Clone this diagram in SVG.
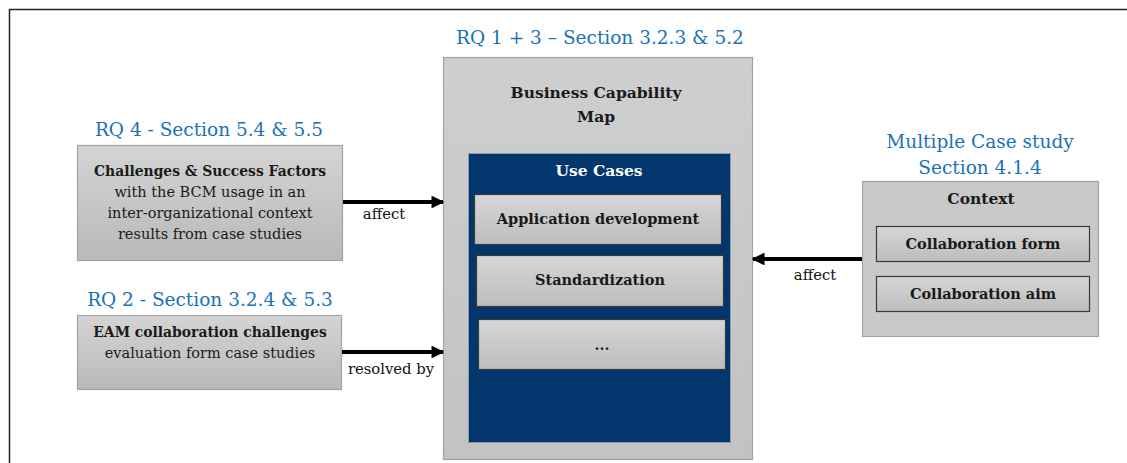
<svg xmlns="http://www.w3.org/2000/svg" width="1127" height="463" viewBox="0 0 1127 463">
  <style>
    text { font-family: "DejaVu Serif", "Liberation Serif", serif; text-anchor: middle; }
    .title { font-size: 18.5px; fill: #1b72b9; }
    .bold { font-size: 14.5px; font-weight: bold; fill: #1a1a1a; }
    .head { font-size: 15.5px; font-weight: bold; fill: #1a1a1a; }
    .lead { font-size: 13.9px; font-weight: bold; fill: #1a1a1a; }
    .norm { font-size: 14.5px; fill: #1a1a1a; }
    .lbl { font-size: 14.8px; fill: #111; }
    .box { fill: url(#gradBox); stroke: #a3a3a3; stroke-width: 1.2; }
    .inner { fill: url(#gradInner); stroke: #3a3a3a; stroke-width: 1.2; }
    .conn { stroke: #000; stroke-width: 4; fill: none; marker-end: url(#arrow); }
  </style>
  <defs>
    <linearGradient id="gradBox" x1="0" y1="0" x2="0" y2="1">
      <stop offset="0" stop-color="#d4d4d4"/>
      <stop offset="1" stop-color="#b9b9b9"/>
    </linearGradient>
    <linearGradient id="gradBig" x1="0" y1="0" x2="0" y2="1">
      <stop offset="0" stop-color="#cfcfcf"/>
      <stop offset="1" stop-color="#c2c2c2"/>
    </linearGradient>
    <linearGradient id="gradInner" x1="0" y1="0" x2="0" y2="1">
      <stop offset="0" stop-color="#d6d6d6"/>
      <stop offset="1" stop-color="#bdbdbd"/>
    </linearGradient>
    <marker id="arrow" viewBox="0 0 10 10" refX="9" refY="5" markerWidth="3.2" markerHeight="3.2" orient="auto" markerUnits="strokeWidth">
      <path d="M0,0 L10,5 L0,10 z" fill="#000"/>
    </marker>
  </defs>

  <rect width="1127" height="463" fill="#fff"/>
  <!-- frame -->
  <path d="M9.5,463 L9.5,9.5 L1127,9.5" fill="none" stroke="#222" stroke-width="1.5"/>

  <!-- central capability map -->
  <g id="bcm">
    <text class="title" x="600" y="44">RQ 1 + 3 – Section 3.2.3 &amp; 5.2</text>
    <rect x="443.5" y="57.5" width="309" height="402" fill="url(#gradBig)" stroke="#a3a3a3" stroke-width="1.2"/>
    <text class="head" x="596" y="98">Business Capability</text>
    <text class="head" x="596" y="122">Map</text>
  </g>

  <g id="use-cases">
    <rect x="468.5" y="153.5" width="262" height="289" fill="#02366c" stroke="#8a9bb0" stroke-width="1"/>
    <text class="head" x="599" y="176" style="fill:#fff">Use Cases</text>
  </g>

  <g id="uc-appdev">
    <rect class="inner" x="474.5" y="194.5" width="247" height="50"/>
    <text class="bold" x="598" y="224">Application development</text>
  </g>
  <g id="uc-standard">
    <rect class="inner" x="476.5" y="255.5" width="247" height="51"/>
    <text class="bold" x="600" y="285">Standardization</text>
  </g>
  <g id="uc-more">
    <rect class="inner" x="478.5" y="319.5" width="247" height="50"/>
    <text class="bold" x="602" y="350">...</text>
  </g>

  <!-- left inputs -->
  <g id="challenges">
    <text class="title" x="209" y="136">RQ 4 - Section 5.4 &amp; 5.5</text>
    <rect class="box" x="77.5" y="145.5" width="265" height="115"/>
    <text class="lead" x="210" y="176">Challenges &amp; Success Factors</text>
    <text class="norm" x="210" y="197">with the BCM usage in an</text>
    <text class="norm" x="210" y="218">inter-organizational context</text>
    <text class="norm" x="210" y="239">results from case studies</text>
  </g>

  <g id="eam">
    <text class="title" x="210" y="306">RQ 2 - Section 3.2.4 &amp; 5.3</text>
    <rect class="box" x="77.5" y="315.5" width="264" height="74"/>
    <text class="lead" x="210" y="337">EAM collaboration challenges</text>
    <text class="norm" x="210" y="358">evaluation form case studies</text>
  </g>

  <!-- right context -->
  <g id="context">
    <text class="title" x="980" y="148">Multiple Case study</text>
    <text class="title" x="980" y="174">Section 4.1.4</text>
    <rect x="862.5" y="181.5" width="236" height="155" fill="#c9c9c9" stroke="#a3a3a3" stroke-width="1.2"/>
    <text class="head" x="981" y="204">Context</text>
  </g>
  <g id="collab-form">
    <rect class="inner" x="876.5" y="226.5" width="213" height="35"/>
    <text class="bold" x="983" y="249">Collaboration form</text>
  </g>
  <g id="collab-aim">
    <rect class="inner" x="876.5" y="276.5" width="213" height="35"/>
    <text class="bold" x="983" y="299">Collaboration aim</text>
  </g>

  <!-- connectors -->
  <g id="connectors">
    <line class="conn" x1="343" y1="202" x2="443" y2="202"/>
    <text class="lbl" x="384" y="219">affect</text>
    <line class="conn" x1="342" y1="352" x2="443" y2="352"/>
    <text class="lbl" x="391" y="374">resolved by</text>
    <line class="conn" x1="862" y1="259" x2="753" y2="259"/>
    <text class="lbl" x="815" y="280">affect</text>
  </g>
</svg>
